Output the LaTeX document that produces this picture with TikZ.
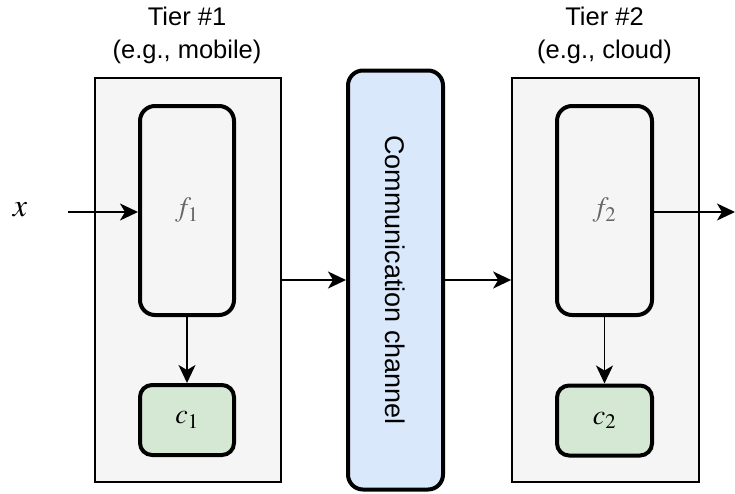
\documentclass[tikz,border=0pt]{standalone}
\usepackage{mathptmx}
\usepackage{fontspec}
\setmainfont{Liberation Sans}
\usepackage{tikz}
\usetikzlibrary{shapes, arrows.meta, positioning}
\definecolor{tiergray}{HTML}{F5F5F5}
\definecolor{fgreen}{HTML}{D5E8D4}
\definecolor{cblue}{HTML}{DAE8FC}
\definecolor{fgray}{HTML}{666666}
\tikzstyle{tier} = [draw, fill=tiergray, rectangle, line width=1.7pt,
    minimum width=186pt, minimum height=404pt]
\tikzstyle{block} = [draw, rectangle, rounded corners=15pt, line width=4pt,
    minimum width=94pt]
\tikzstyle{label} = [align=center, anchor=south, font=\fontsize{25.5}{33}\selectfont]
\tikzstyle{output} = [coordinate]

\begin{document}
\begin{tikzpicture}[x=1pt, y=-1pt, >={Stealth[length=18pt, width=17pt, inset=5pt]}]
    \useasboundingbox (0,0) rectangle (735,493);
    % tiers
    \node [tier] (tier1) at (188,280) {};
    \node [tier, minimum width=187pt] (tier2) at (605.5,280) {};
    \node [block, fill=cblue, minimum width=95pt, minimum height=419pt] (chan) at (395.5,280)
        {\rotatebox{-90}{\fontsize{27}{27}\selectfont Communication channel}};
    \node [block, minimum height=209pt] (f1) at (187,210.5)
        {\fontsize{28}{28}\selectfont\color{fgray}$f_1$};
    \node [block, fill=fgreen, rounded corners=12pt, minimum height=70pt] (c1) at (187,420)
        {\fontsize{28}{28}\selectfont$c_1$};
    \node [block, minimum width=95pt, minimum height=209pt] (f2) at (604.5,210.5)
        {\fontsize{28}{28}\selectfont\color{fgray}$f_2$};
    \node [block, fill=fgreen, rounded corners=12pt, minimum width=95pt, minimum height=70pt] (c2) at (604.5,420.5)
        {\fontsize{28}{28}\selectfont$c_2$};
    \node [label] (lab1) at (187,67) {Tier \#1\\(e.g., mobile)};
    \node [label] (lab2) at (604.5,67) {Tier \#2\\(e.g., cloud)};
    \node (xin) at (20,210) {\fontsize{32}{32}\selectfont$x$};
    \node [output] (start) at (68,212) {};
    \node [output] (output) at (735,212) {};
    % connectors
    \draw [->, line width=1.7pt] (start) -- (start -| f1.west);
    \draw [->, line width=1.7pt] (f1) -- (c1);
    \draw [->, line width=1.7pt] (tier1.east) -- (chan.west);
    \draw [->, line width=1.7pt] (chan.east) -- (tier2.west);
    \draw [->, line width=1.7pt] (output -| f2.east) -- (output);
    \draw [->, line width=1.7pt] (f2) -- (c2);
\end{tikzpicture}
\end{document}
